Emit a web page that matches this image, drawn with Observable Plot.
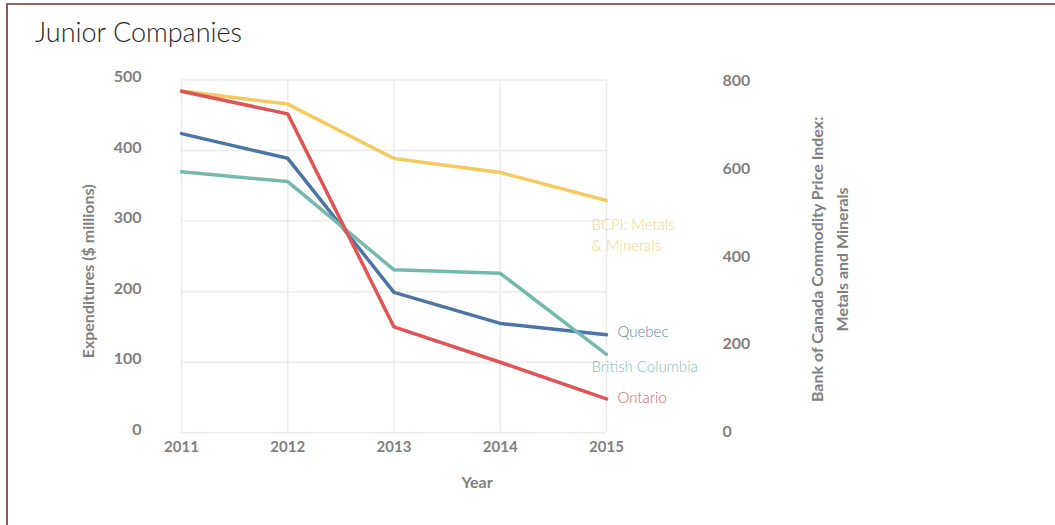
<!DOCTYPE html>
<html>
<head>
<meta charset="utf-8">
<script src="https://cdn.jsdelivr.net/npm/d3@7"></script>
<script src="https://cdn.jsdelivr.net/npm/@observablehq/plot@0.6"></script>
<style>
  html, body { margin: 0; padding: 0; background: #fff; }
  #page { position: relative; width: 1055px; height: 525px; overflow: hidden; }
  #frame { position: absolute; top: 3px; left: 6px; right: -4px; bottom: -4px;
           border-top: 2px solid #8b685c; border-left: 2px solid #8b5a48; pointer-events: none; }
  #title { position: absolute; left: 35px; top: 16px; font-family: Lato, sans-serif; font-weight: 300;
           font-size: 27px; line-height: 32px; color: #262626; white-space: nowrap; }
  #chart { position: absolute; left: 0; top: 60px; }
</style>
</head>
<body>
<div id="page">
  <div id="title">Junior Companies</div>
  <div id="chart"></div>
  <div id="frame"></div>
</div>
<script>
// Exploration expenditures by junior companies ($ millions) and the BCPI metals & minerals index
const years = [2011, 2012, 2013, 2014, 2015];
const quebec = [424, 389, 199, 155, 139];
const britishColumbia = [370, 356, 231, 226, 111];
const ontario = [484, 452, 150, 100, 48];
const bcpi = [780, 750, 626, 594, 530];

const leftTicks = [0, 100, 200, 300, 400, 500];
const rightTicks = [0, 200, 400, 600, 800];

const seriesNames = ["BCPI", "Quebec", "British Columbia", "Ontario"];
const seriesLabels = ["BCPI: Metals\n& Minerals", "Quebec", "British Columbia", "Ontario"];
const seriesColors = ["#f3ca5e", "#4b75a7", "#74b9ae", "#e05456"];
const labelColors = ["#f5d57f", "#5a7fae", "#7fc0b5", "#e25e60"];

// Right-hand axis (index) shares the plot height: 805 index points span the same height as $500M
const rightMax = 805;
const leftMax = 500;
const k = leftMax / rightMax;

const seriesValues = [bcpi, quebec, britishColumbia, ontario];
const onRightAxis = [true, false, false, false];

const rows = seriesNames.flatMap((name, s) =>
  years.map((year, i) => ({
    series: name,
    year,
    value: onRightAxis[s] ? seriesValues[s][i] * k : seriesValues[s][i]
  }))
);

// end-of-line labels, offset from the 2015 point
const labelOffsets = {
  "BCPI": {dx: -15, dy: 33},
  "Quebec": {dx: 11, dy: -5},
  "British Columbia": {dx: -15, dy: 11},
  "Ontario": {dx: 11, dy: -3}
};
const endRows = rows.filter(d => d.year === years[years.length - 1]);

const axisFont = "Lato, 'Open Sans', sans-serif";
const labelFont = "Lato, sans-serif";

const chart = Plot.plot({
  width: 1055,
  height: 465,
  marginLeft: 181,
  marginRight: 449,
  marginTop: 19.5,
  marginBottom: 92.7,
  style: {fontFamily: axisFont, background: "transparent", overflow: "visible"},
  x: {domain: [years[0], years[years.length - 1]]},
  y: {domain: [0, leftMax]},
  color: {domain: seriesNames, range: seriesColors},
  marks: [
    Plot.gridY(leftTicks, {stroke: "#ececec", strokeOpacity: 1, strokeWidth: 1.5}),
    Plot.gridX(years, {stroke: "#ececec", strokeOpacity: 1, strokeWidth: 1.5}),
    Plot.axisY(leftTicks, {
      anchor: "left", tickSize: 0, tickPadding: 40, label: null,
      fill: "#7f7f7f", fontSize: 16, fontWeight: 700, dy: -3
    }),
    Plot.axisY(rightTicks.map(v => v * k), {
      anchor: "right", tickSize: 0, tickPadding: 116, label: null,
      tickFormat: v => String(Math.round(v / k)),
      fill: "#7f7f7f", fontSize: 16, fontWeight: 700, dy: -1
    }),
    Plot.axisX(years, {
      anchor: "bottom", tickSize: 0, tickPadding: 9, label: null,
      tickFormat: d => String(d),
      fill: "#7f7f7f", fontSize: 15, fontWeight: 700
    }),
    Plot.line(rows, {
      x: "year", y: "value", z: "series", stroke: "series",
      strokeWidth: 3.5, strokeLinecap: "round", strokeLinejoin: "round"
    }),
    ...seriesNames.map((name, s) =>
      Plot.text(endRows.filter(d => d.series === name), {
        x: "year", y: "value",
        text: () => seriesLabels[s],
        textAnchor: "start",
        lineAnchor: "middle",
        lineHeight: 1.45,
        fill: labelColors[s],
        fontFamily: labelFont,
        fontWeight: 300,
        fontSize: 15,
        dx: labelOffsets[name].dx,
        dy: labelOffsets[name].dy
      })
    ),
    // axis titles
    Plot.text(["Expenditures ($ millions)"], {
      frameAnchor: "left", textAnchor: "middle", rotate: -90, dx: -93, dy: 15,
      fill: "#7f7f7f", fontSize: 16, fontWeight: 700
    }),
    Plot.text(["Bank of Canada Commodity Price Index:\nMetals and Minerals"], {
      frameAnchor: "right", textAnchor: "middle", rotate: -90, dx: 221, dy: 3, lineHeight: 1.6,
      fill: "#7f7f7f", fontSize: 16, fontWeight: 700
    }),
    Plot.text(["Year"], {
      frameAnchor: "bottom", dx: 83, dy: 55,
      fill: "#7f7f7f", fontSize: 16, fontWeight: 700
    })
  ]
});

document.getElementById("chart").appendChild(chart);
</script>
</body>
</html>
